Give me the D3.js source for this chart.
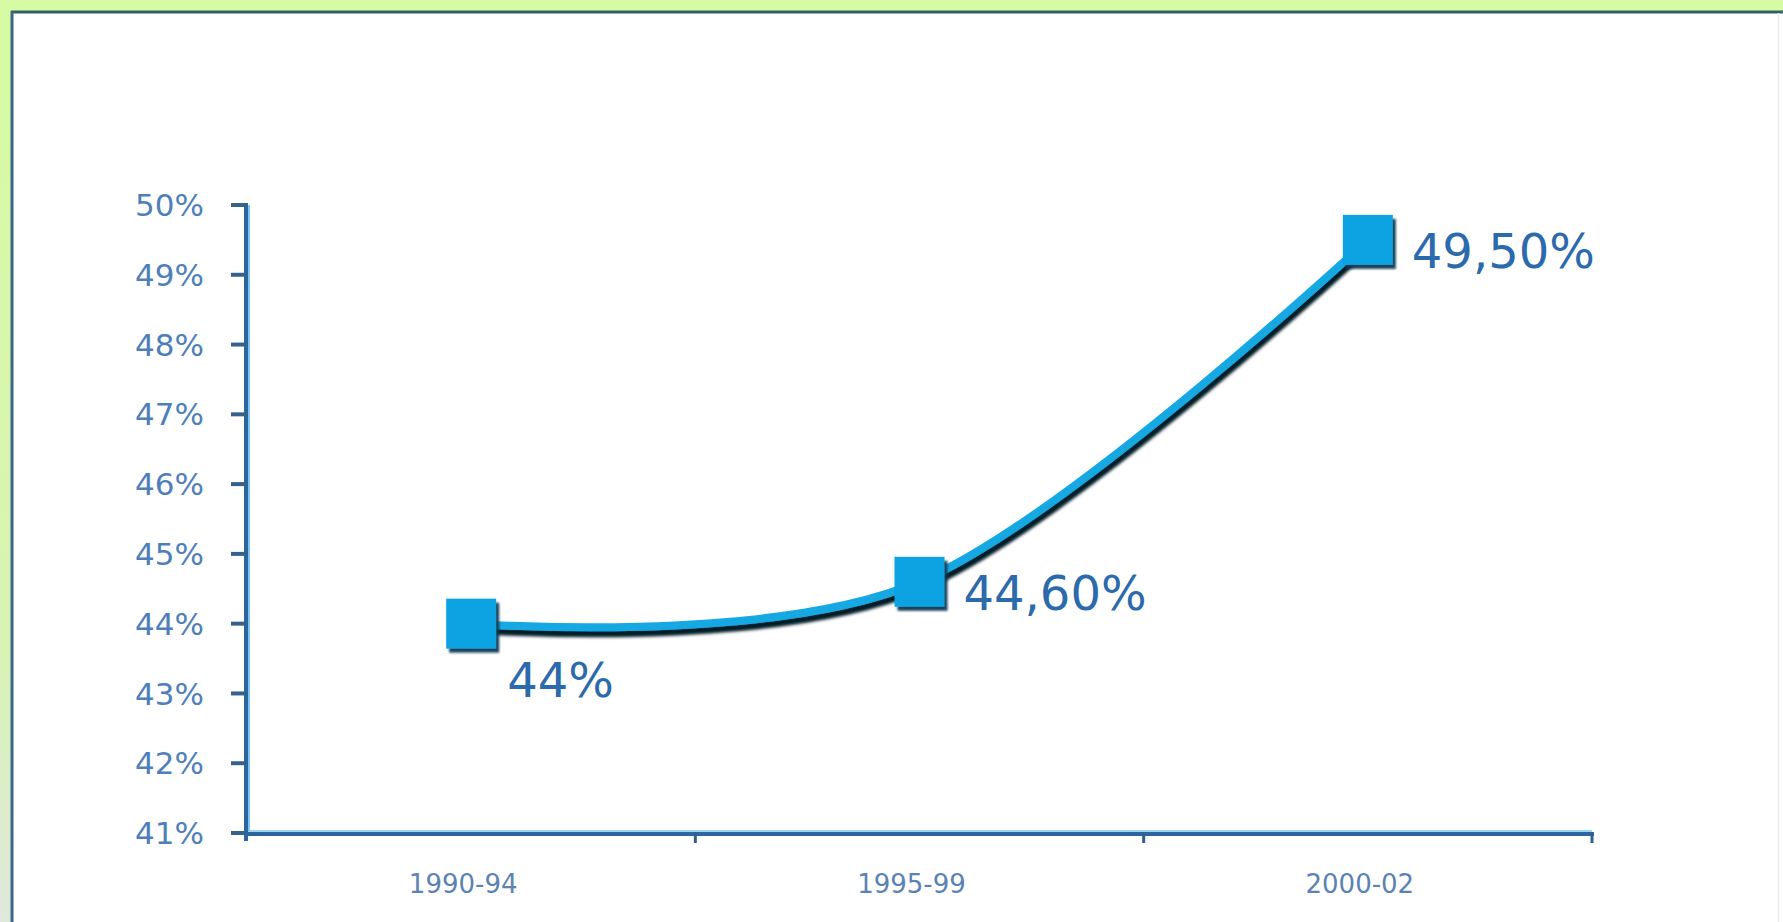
<!DOCTYPE html>
<html>
<head>
<meta charset="utf-8">
<script src="https://cdn.jsdelivr.net/npm/d3@7"></script>
<style>
  html, body { margin: 0; padding: 0; background: #d6fba2; }
  svg { display: block; }
  text { font-family: "DejaVu Sans", Verdana, sans-serif; }
</style>
</head>
<body>
<svg id="chart" width="1783" height="922"></svg>
<script>
// Share per period
const periods = ["1990-94", "1995-99", "2000-02"];
const shares = [44, 44.6, 49.5];
const valueLabels = ["44%", "44,60%", "49,50%"];
const yTicks = [41, 42, 43, 44, 45, 46, 47, 48, 49, 50];
const yTickLabels = ["41%", "42%", "43%", "44%", "45%", "46%", "47%", "48%", "49%", "50%"];

const W = 1783, H = 922;
const svg = d3.select("#chart");
const defs = svg.append("defs");

// dark shadow under the line and markers
const sh = defs.append("filter").attr("id", "shadow")
  .attr("x", "-20%").attr("y", "-20%").attr("width", "140%").attr("height", "140%");
sh.append("feDropShadow").attr("dx", 2).attr("dy", 6).attr("stdDeviation", 1.8)
  .attr("flood-color", "#061a26").attr("flood-opacity", 1);

const msh = defs.append("filter").attr("id", "mshadow")
  .attr("x", "-20%").attr("y", "-20%").attr("width", "150%").attr("height", "150%");
msh.append("feDropShadow").attr("dx", 3).attr("dy", 4).attr("stdDeviation", 1.3)
  .attr("flood-color", "#0f3550").attr("flood-opacity", 0.95);

const edge = defs.append("linearGradient").attr("id", "edge")
  .attr("x1", 0).attr("y1", 0).attr("x2", 0).attr("y2", 1);
edge.append("stop").attr("offset", "0%").attr("stop-color", "#d6fba2");
edge.append("stop").attr("offset", "70%").attr("stop-color", "#d8f3b4");
edge.append("stop").attr("offset", "100%").attr("stop-color", "#dfe8dd");

// frame
svg.append("rect").attr("x", 0).attr("y", 0).attr("width", 12).attr("height", H).attr("fill", "url(#edge)");
svg.append("rect").attr("x", 11).attr("y", 11).attr("width", W - 11).attr("height", H)
  .attr("fill", "#ffffff");
svg.append("line").attr("x1", 11).attr("x2", W).attr("y1", 12).attr("y2", 12)
  .attr("stroke", "#30606a").attr("stroke-width", 3);
svg.append("line").attr("x1", 12).attr("x2", 12).attr("y1", 11).attr("y2", H)
  .attr("stroke", "#3a6688").attr("stroke-width", 3);
svg.append("line").attr("x1", 1778.5).attr("x2", 1778.5).attr("y1", 13).attr("y2", H)
  .attr("stroke", "#e8eeef").attr("stroke-width", 1.5);

// scales
const x = d3.scaleBand().domain(periods).range([247, 1592]).padding(0);
const y = d3.scaleLinear().domain([41, 50]).range([833, 205]);
const cx = d => x(d) + x.bandwidth() / 2;

// y axis
const yAxis = svg.append("g");
yAxis.append("line").attr("x1", 246).attr("x2", 246).attr("y1", y(50) - 2).attr("y2", y(41) + 8)
  .attr("stroke", "#2b66a0").attr("stroke-width", 4);
yAxis.append("line").attr("x1", 249).attr("x2", 249).attr("y1", y(50)).attr("y2", y(41) - 2)
  .attr("stroke", "#7cc6f0").attr("stroke-width", 2);
yAxis.selectAll("line.tick").data(yTicks).join("line").attr("class", "tick")
  .attr("x1", 231).attr("x2", 248)
  .attr("y1", d => y(d)).attr("y2", d => y(d))
  .attr("stroke", "#35618c").attr("stroke-width", 4);
yAxis.selectAll("text").data(yTicks).join("text")
  .attr("x", 204).attr("y", d => y(d)).attr("dy", "0.36em")
  .attr("text-anchor", "end")
  .attr("font-size", 31).attr("fill", "#4f7fbb")
  .text((d, i) => yTickLabels[i]);

// x axis
const xAxis = svg.append("g");
xAxis.append("line").attr("x1", 244).attr("x2", 1594).attr("y1", y(41) + 1).attr("y2", y(41) + 1)
  .attr("stroke", "#2b66a0").attr("stroke-width", 4);
xAxis.append("line").attr("x1", 248).attr("x2", 1592).attr("y1", y(41) - 2).attr("y2", y(41) - 2)
  .attr("stroke", "#7cc6f0").attr("stroke-width", 1.5);
const bounds = periods.map(p => x(p)).concat([x(periods[periods.length - 1]) + x.bandwidth()]);
xAxis.selectAll("line.tick").data(bounds.slice(1)).join("line").attr("class", "tick")
  .attr("x1", d => d).attr("x2", d => d)
  .attr("y1", y(41)).attr("y2", y(41) + 10)
  .attr("stroke", "#2f5f8c").attr("stroke-width", 3);
xAxis.selectAll("text").data(periods).join("text")
  .attr("x", d => cx(d) - 8).attr("y", y(41) + 60)
  .attr("text-anchor", "middle")
  .attr("font-size", 26).attr("fill", "#5b82b2")
  .text(d => d);

// smoothed series line
const pts = periods.map((p, i) => [cx(p), y(shares[i])]);
const line = d3.line().curve(d3.curveCardinal.tension(0));
svg.append("path").attr("d", line(pts))
  .attr("fill", "none").attr("stroke", "#19a8e2").attr("stroke-width", 8)
  .attr("stroke-linecap", "round")
  .attr("filter", "url(#shadow)");

// square markers
const M = 50;
svg.selectAll("rect.marker").data(pts).join("rect").attr("class", "marker")
  .attr("x", d => d[0] - M / 2).attr("y", d => d[1] - M / 2)
  .attr("width", M).attr("height", M)
  .attr("fill", "#0aa3e2")
  .attr("filter", "url(#mshadow)");

// value labels: first one sits below-right of its marker, the others to the right
svg.selectAll("text.value").data(pts).join("text").attr("class", "value")
  .attr("x", (d, i) => d[0] + (i === 0 ? 36 : 44))
  .attr("y", (d, i) => d[1] + (i === 0 ? 73 : 28))
  .attr("font-size", 48).attr("fill", "#2b6aab")
  .text((d, i) => valueLabels[i]);
</script>
</body>
</html>
